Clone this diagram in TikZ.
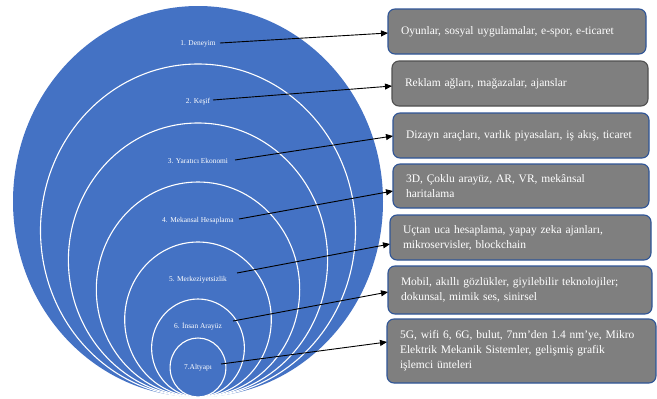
\documentclass[tikz,border=0pt]{standalone}
\usepackage{fontspec}
\setmainfont{Liberation Serif}
\usetikzlibrary{arrows.meta}
\definecolor{discblue}{HTML}{4472C4}
\definecolor{boxgray}{HTML}{7F7F7F}
\definecolor{boxedge}{HTML}{2F5597}
\definecolor{boxedgegray}{HTML}{505050}
\tikzset{
  ring/.style={draw=white, line width=1.1pt, fill=discblue},
  lbl/.style={text=white, font=\fontsize{7.4}{8.5}\selectfont, inner sep=0pt},
  infobox/.style={draw=boxedge, line width=1.1pt, fill=boxgray, rounded corners=7pt,
    anchor=north west, inner xsep=13pt, inner ysep=2pt, outer sep=0pt, align=left,
    text=white, font=\fontsize{11.5}{15}\selectfont},
  conn/.style={draw=black, line width=0.9pt, -{Triangle[length=7pt,width=6pt]}}
}
\begin{document}
\begin{tikzpicture}[x=1pt,y=-1pt]
\useasboundingbox (0,0) rectangle (657,399);
% nested discs, all touching at the bottom
\fill[discblue] (198,201.5) ellipse [x radius=185pt, y radius=195.5pt];
\draw[ring] (198,230.5) ellipse [x radius=157.5pt, y radius=166.5pt];
\draw[ring] (198,260) ellipse [x radius=129.6pt, y radius=137pt];
\draw[ring] (198,289.5) ellipse [x radius=101.7pt, y radius=107.5pt];
\draw[ring] (198,319.5) ellipse [x radius=73.3pt, y radius=77.5pt];
\draw[ring] (198,348) ellipse [x radius=46.4pt, y radius=49pt];
\draw[ring] (198,367.5) ellipse [x radius=27.9pt, y radius=29.5pt];
% layer labels
\node[lbl] (l1) at (198,44) {1. Deneyim};
\node[lbl] (l2) at (198,102) {2. Keşif};
\node[lbl] (l3) at (198,161) {3. Yaratıcı Ekonomi};
\node[lbl] (l4) at (198,221) {4. Mekansal Hesaplama};
\node[lbl] (l5) at (198,280) {5. Merkeziyetsizlik};
\node[lbl] (l6) at (198,326) {6. İnsan Arayüz};
\node[lbl] (l7) at (198,368) {7.Altyapı};
% connector start points
\coordinate (s1) at (220,43);
\coordinate (s2) at (213,100);
\coordinate (s3) at (235,160);
\coordinate (s4) at (239,219);
\coordinate (s5) at (237,273);
\coordinate (s6) at (233,321);
\coordinate (s7) at (221,364);
% boxes
\node[infobox, minimum width=258pt, minimum height=45pt, text width=232pt] (b1) at (388,9)
  {Oyunlar, sosyal uygulamalar, e-spor, e-ticaret};
\node[infobox, draw=boxedgegray, minimum width=256pt, minimum height=45pt, text width=230pt] (b2) at (392,61)
  {Reklam ağları, mağazalar, ajanslar};
\node[infobox, minimum width=256pt, minimum height=45pt, text width=230pt] (b3) at (393,113)
  {Dizayn araçları, varlık piyasaları, iş akış, ticaret};
\node[infobox, minimum width=256pt, minimum height=44pt, text width=230pt] (b4) at (393,164)
  {3D, Çoklu arayüz, AR, VR, mekânsal\\haritalama};
\node[infobox, minimum width=261pt, minimum height=45pt, text width=235pt] (b5) at (390,215)
  {Uçtan uca hesaplama, yapay zeka ajanları,\\mikroservisler, blockchain};
\node[infobox, minimum width=264pt, minimum height=48pt, text width=238pt] (b6) at (388,266)
  {Mobil, akıllı gözlükler, giyilebilir teknolojiler;\\dokunsal, mimik ses, sinirsel};
\node[infobox, minimum width=269pt, minimum height=64pt, text width=243pt] (b7) at (387,319)
  {5G, wifi 6, 6G, bulut, 7nm’den 1.4 nm’ye, Mikro\\Elektrik Mekanik Sistemler, gelişmiş grafik\\işlemci ünteleri};
% connectors
\draw[conn] (s1) -- ([yshift=-1.5pt]b1.west);
\draw[conn] (s2) -- ([yshift=-2.5pt]b2.west);
\draw[conn] (s3) -- ([yshift=-0.5pt]b3.west);
\draw[conn] (s4) -- ([yshift=-5pt]b4.west);
\draw[conn] (s5) -- ([yshift=-6.5pt]b5.west);
\draw[conn] (s6) -- ([yshift=-2pt]b6.west);
\draw[conn] (s7) -- ([yshift=9pt]b7.west);
\end{tikzpicture}
\end{document}
